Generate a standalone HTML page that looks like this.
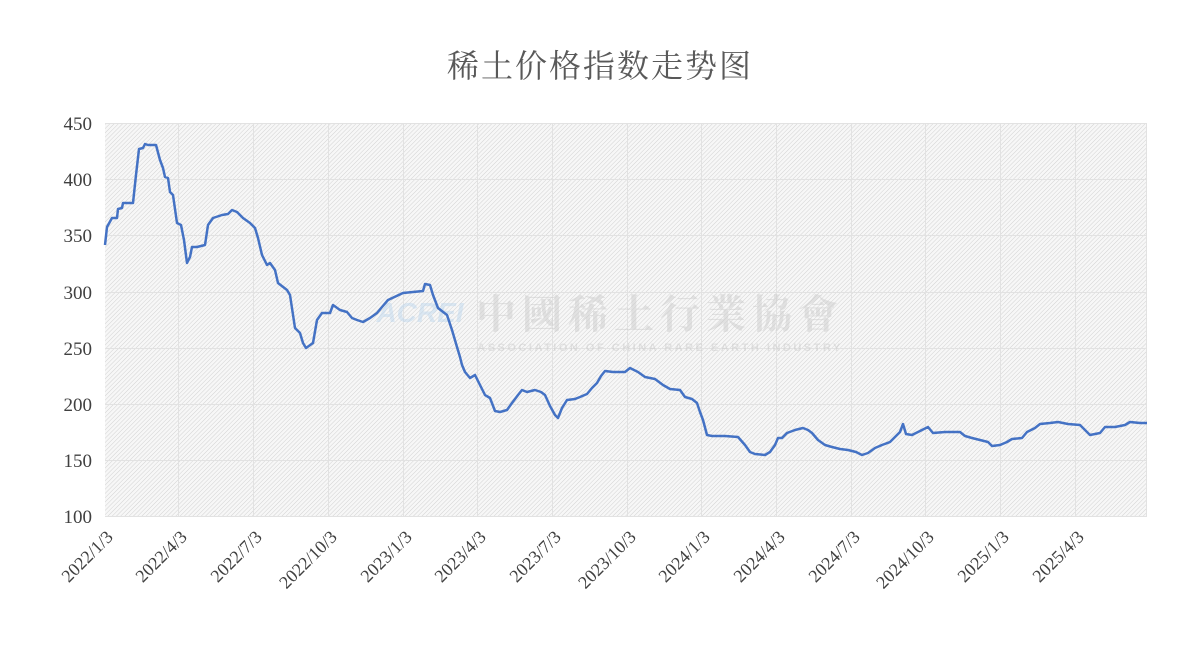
<!DOCTYPE html>
<html><head><meta charset="utf-8"><style>
html,body{margin:0;padding:0;background:#fff;width:1200px;height:645px;overflow:hidden}
</style></head><body>
<svg width="1200" height="645" xmlns="http://www.w3.org/2000/svg" font-family="'Liberation Serif','Noto Serif CJK SC',serif">
<defs>
<pattern id="h" width="3" height="3" patternUnits="userSpaceOnUse" patternTransform="rotate(45)">
<rect width="3" height="3" fill="#f7f7f7"/><line x1="0" y1="0" x2="0" y2="3" stroke="#d2d2d2" stroke-width="1"/>
</pattern>
</defs>
<text x="600" y="77" text-anchor="middle" font-size="32" fill="#595959" letter-spacing="2">稀土价格指数走势图</text>
<rect x="105" y="123" width="1042" height="393" fill="url(#h)"/>
<g stroke="#e2e2e2" stroke-width="1">
<line x1="105" y1="123.5" x2="1147" y2="123.5"/><line x1="105" y1="179.5" x2="1147" y2="179.5"/><line x1="105" y1="235.5" x2="1147" y2="235.5"/><line x1="105" y1="292.5" x2="1147" y2="292.5"/><line x1="105" y1="348.5" x2="1147" y2="348.5"/><line x1="105" y1="404.5" x2="1147" y2="404.5"/><line x1="105" y1="460.5" x2="1147" y2="460.5"/><line x1="105" y1="516.5" x2="1147" y2="516.5"/>
<line x1="178.5" y1="123" x2="178.5" y2="516"/><line x1="253.5" y1="123" x2="253.5" y2="516"/><line x1="328.5" y1="123" x2="328.5" y2="516"/><line x1="403.5" y1="123" x2="403.5" y2="516"/><line x1="477.5" y1="123" x2="477.5" y2="516"/><line x1="552.5" y1="123" x2="552.5" y2="516"/><line x1="627.5" y1="123" x2="627.5" y2="516"/><line x1="701.5" y1="123" x2="701.5" y2="516"/><line x1="776.5" y1="123" x2="776.5" y2="516"/><line x1="851.5" y1="123" x2="851.5" y2="516"/><line x1="925.5" y1="123" x2="925.5" y2="516"/><line x1="1000.5" y1="123" x2="1000.5" y2="516"/><line x1="1075.5" y1="123" x2="1075.5" y2="516"/><line x1="1146.5" y1="123" x2="1146.5" y2="516"/>
</g>
<g opacity="0.45">
<text x="660" y="328" text-anchor="middle" font-size="40" font-weight="bold" fill="#c8c8c8" letter-spacing="6" font-family="'Noto Serif CJK SC',serif">中國稀土行業協會</text>
<text x="660" y="351" text-anchor="middle" font-size="11" font-weight="bold" fill="#c8c8c8" letter-spacing="2.5" font-family="'Liberation Sans',sans-serif">ASSOCIATION OF CHINA RARE EARTH INDUSTRY</text>
<text x="420" y="322" text-anchor="middle" font-size="28" font-style="italic" font-weight="bold" fill="#b8d4ee" font-family="'Liberation Sans',sans-serif">ACREI</text>
</g>
<g font-size="19" fill="#404040" text-anchor="end">
<text x="92" y="130">450</text><text x="92" y="186">400</text><text x="92" y="242">350</text><text x="92" y="299">300</text><text x="92" y="355">250</text><text x="92" y="411">200</text><text x="92" y="467">150</text><text x="92" y="523">100</text>
</g>
<g font-size="18" fill="#404040" text-anchor="end">
<text transform="translate(114,538) rotate(-45)">2022/1/3</text>
<text transform="translate(188,538) rotate(-45)">2022/4/3</text>
<text transform="translate(263,538) rotate(-45)">2022/7/3</text>
<text transform="translate(338,538) rotate(-45)">2022/10/3</text>
<text transform="translate(413,538) rotate(-45)">2023/1/3</text>
<text transform="translate(487,538) rotate(-45)">2023/4/3</text>
<text transform="translate(562,538) rotate(-45)">2023/7/3</text>
<text transform="translate(637,538) rotate(-45)">2023/10/3</text>
<text transform="translate(711,538) rotate(-45)">2024/1/3</text>
<text transform="translate(786,538) rotate(-45)">2024/4/3</text>
<text transform="translate(861,538) rotate(-45)">2024/7/3</text>
<text transform="translate(935,538) rotate(-45)">2024/10/3</text>
<text transform="translate(1010,538) rotate(-45)">2025/1/3</text>
<text transform="translate(1085,538) rotate(-45)">2025/4/3</text>
</g>
<polyline fill="none" stroke="#4472c4" stroke-width="2.5" stroke-linejoin="round" points="105,245 107,227 112,218 117,218 118,209 122,208 123,203 133,203 136,175 139,149 143,148 145,144 148,145 156,145 160,160 163,168 165,177 168,178 170,192 173,195 177,223 181,225 184,240 187,263 190,257 192,247 197,247 205,245 208,225 213,218 222,215 228,214 232,210 237,212 243,218 250,223 255,228 258,238 262,255 267,265 270,263 275,270 278,283 287,290 290,295 295,328 300,333 303,343 306,348 313,343 317,320 322,313 330,313 333,305 340,310 347,312 352,318 357,320 363,322 370,318 377,313 382,307 388,300 403,293 423,291 425,284 430,285 433,295 438,308 447,315 452,330 457,347 460,357 462,365 465,372 470,378 475,375 480,385 485,395 490,398 495,411 500,412 507,410 512,403 518,395 522,390 527,392 535,390 541,392 545,395 550,406 555,415 558,418 562,408 567,400 575,399 580,397 587,394 592,388 597,383 601,376 605,371 613,372 625,372 630,368 638,372 645,377 655,379 663,385 670,389 680,390 685,397 692,399 697,403 700,412 703,420 707,435 712,436 725,436 738,437 745,445 750,452 755,454 765,455 770,452 775,445 778,438 782,438 787,433 795,430 803,428 808,430 812,433 818,440 825,445 832,447 840,449 848,450 856,452 862,455 868,453 875,448 882,445 890,442 895,437 900,432 903,424 906,434 912,435 920,431 928,427 933,433 945,432 960,432 965,436 972,438 980,440 988,442 992,446 1000,445 1007,442 1012,439 1022,438 1027,432 1035,428 1040,424 1050,423 1058,422 1068,424 1080,425 1085,430 1090,435 1100,433 1105,427 1115,427 1125,425 1130,422 1140,423 1147,423"/>
</svg>
</body></html>
